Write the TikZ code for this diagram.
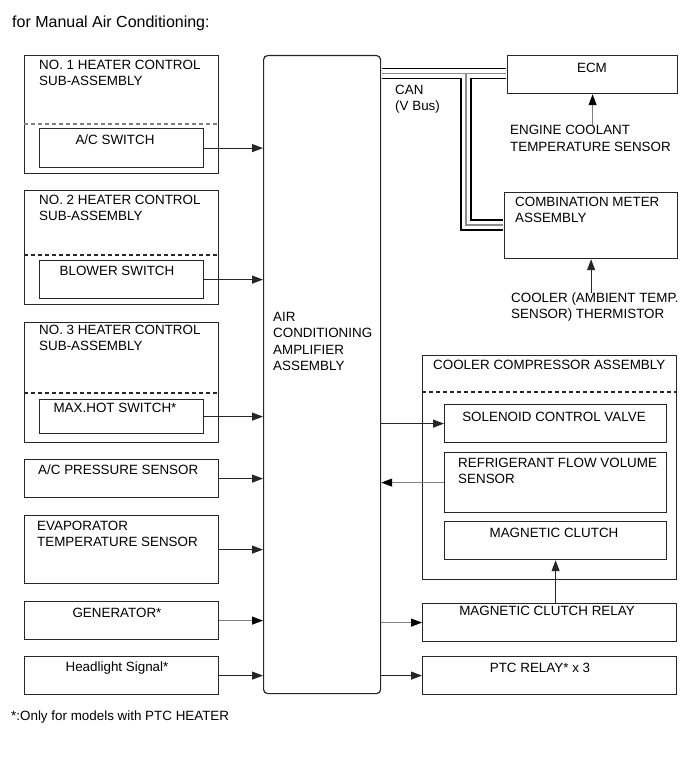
\documentclass[tikz,border=0pt]{standalone}
\usepackage{fontspec}
\setmainfont{Liberation Sans}
\usetikzlibrary{arrows.meta}

\begin{document}
\begin{tikzpicture}[x=1pt, y=-1pt,
    box/.style={draw=black!85, line width=1.2pt, anchor=north west, inner sep=0pt},
    txt/.style={inner sep=0pt, align=left, font=\fontsize{13.4}{15.8}\selectfont},
    sig/.style={draw=black!85, line width=1.1pt, -{Triangle[length=11pt,width=8pt]}},
    gsig/.style={draw=black!50, line width=1.1pt, -{Triangle[length=11pt,width=8pt,color=black]}},
    divline/.style={draw=black!85, line width=1.1pt, dash pattern=on 4pt off 3pt}]
  \useasboundingbox (0,0) rectangle (691,757);

  \node[txt, anchor=west, font=\fontsize{16}{19}\selectfont] (title) at (12,23) {for Manual Air Conditioning:};

  % left column
  \node[box, minimum width=194pt, minimum height=118pt] (hc1) at (24,55) {};
  \node[txt, anchor=north west] (hc1t) at (39,60) {NO. 1 HEATER CONTROL\\SUB-ASSEMBLY};
  \draw[divline, draw=black!50] (24,124) -- (218,124);
  \node[box, minimum width=164pt, minimum height=39pt] (acsw) at (39,128) {};
  \node[txt] (acswt) at (115,140) {A/C SWITCH};

  \node[box, minimum width=194pt, minimum height=114pt] (hc2) at (24,190) {};
  \node[txt, anchor=north west] (hc2t) at (39,195) {NO. 2 HEATER CONTROL\\SUB-ASSEMBLY};
  \draw[divline] (24,255) -- (218,255);
  \node[box, minimum width=164pt, minimum height=38pt] (blsw) at (39,260) {};
  \node[txt] (blswt) at (117,271) {BLOWER SWITCH};

  \node[box, minimum width=194pt, minimum height=120pt] (hc3) at (24,322) {};
  \node[txt, anchor=north west] (hc3t) at (39,325) {NO. 3 HEATER CONTROL\\SUB-ASSEMBLY};
  \draw[divline] (24,393) -- (218,393);
  \node[box, minimum width=164pt, minimum height=34pt] (mhsw) at (39,399) {};
  \node[txt] (mhswt) at (115,408) {MAX.HOT SWITCH*};

  \node[box, minimum width=194pt, minimum height=38pt] (acp) at (24,459) {};
  \node[txt, anchor=west] (acpt) at (38,470) {A/C PRESSURE SENSOR};

  \node[box, minimum width=194pt, minimum height=68pt] (evap) at (24,515) {};
  \node[txt, anchor=north west] (evapt) at (37,521) {EVAPORATOR\\TEMPERATURE SENSOR};

  \node[box, minimum width=194pt, minimum height=38pt] (gen) at (24,601) {};
  \node[txt] (gent) at (117,613) {GENERATOR*};

  \node[box, minimum width=194pt, minimum height=38pt] (head) at (24,656) {};
  \node[txt] (headt) at (117,668) {Headlight Signal*};

  \node[txt, anchor=west] (note) at (11,717) {*:Only for models with PTC HEATER};

  % amplifier
  \node[box, rounded corners=4pt, minimum width=117pt, minimum height=638pt] (amp) at (263,55) {};
  \node[txt, anchor=north west, font=\fontsize{13.4}{16.3}\selectfont] (ampt) at (273,312) {AIR\\CONDITIONING\\AMPLIFIER\\ASSEMBLY};

  % right column
  \node[box, minimum width=170pt, minimum height=38pt] (ecm) at (507,55) {};
  \node[txt] (ecmt) at (592,68) {ECM};
  \node[txt, anchor=north west, font=\fontsize{13.4}{16.8}\selectfont] (ecs) at (510,125) {ENGINE COOLANT\\TEMPERATURE SENSOR};
  \node[txt, anchor=north west] (can) at (395,85) {CAN\\(V Bus)};

  \node[box, minimum width=173pt, minimum height=66pt] (meter) at (504,192) {};
  \node[txt, anchor=north west] (metert) at (515,197) {COMBINATION METER\\ASSEMBLY};
  \node[txt, anchor=north west] (cool) at (511,293) {COOLER (AMBIENT TEMP.\\SENSOR) THERMISTOR};

  \node[box, minimum width=254pt, minimum height=224pt] (cca) at (422,355) {};
  \node[txt, anchor=west] (ccat) at (433,365) {COOLER COMPRESSOR ASSEMBLY};
  \draw[divline] (422,392) -- (676,392);
  \node[box, minimum width=222pt, minimum height=38pt] (sol) at (444,404) {};
  \node[txt] (solt) at (554,417) {SOLENOID CONTROL VALVE};
  \node[box, minimum width=222pt, minimum height=60pt] (rfv) at (444,452) {};
  \node[txt, anchor=north west] (rfvt) at (458,458) {REFRIGERANT FLOW VOLUME\\SENSOR};
  \node[box, minimum width=222pt, minimum height=38pt] (mc) at (444,521) {};
  \node[txt] (mct) at (554,533) {MAGNETIC CLUTCH};

  \node[box, minimum width=254pt, minimum height=38pt] (mcr) at (422,603) {};
  \node[txt] (mcrt) at (547,611) {MAGNETIC CLUTCH RELAY};
  \node[box, minimum width=254pt, minimum height=38pt] (ptc) at (422,656) {};
  \node[txt] (ptct) at (540,668) {PTC RELAY* x 3};

  % CAN bus
  \coordinate (j1) at (466,73.5);
  \coordinate (j2) at (466,225);
  \foreach \w/\c in {11.8/black, 8.4/white, 1.3/black!45}
    \draw[line width=\w pt, \c] ([xshift=.6pt]amp.east |- j1) -- ([xshift=-.6pt]ecm.west |- j1)
      (j1) -- (j2) -- ([xshift=-.6pt]meter.west |- j2);

  % signals
  \draw[sig] (acsw.east) -- (acsw.east -| amp.west);
  \draw[sig] (blsw.east) -- (blsw.east -| amp.west);
  \draw[sig] (mhsw.east) -- (mhsw.east -| amp.west);
  \draw[sig] (acp.east) -- (acp.east -| amp.west);
  \draw[sig] (evap.east) -- (evap.east -| amp.west);
  \draw[gsig] (gen.east) -- (gen.east -| amp.west);
  \draw[sig] (head.east) -- (head.east -| amp.west);
  \draw[sig] (amp.east |- sol.west) -- (sol.west);
  \draw[gsig] (rfv.west) -- (rfv.west -| amp.east);
  \draw[gsig] (amp.east |- mcr.west) -- (mcr.west);
  \draw[sig] (amp.east |- ptc.west) -- (ptc.west);
  \draw[sig] (mc.south |- mcr.north) -- (mc.south);
  \draw[gsig] (ecs.north -| ecm.south) -- (ecm.south);
  \draw[sig] (cool.north -| meter.south) -- (meter.south);
\end{tikzpicture}
\end{document}
